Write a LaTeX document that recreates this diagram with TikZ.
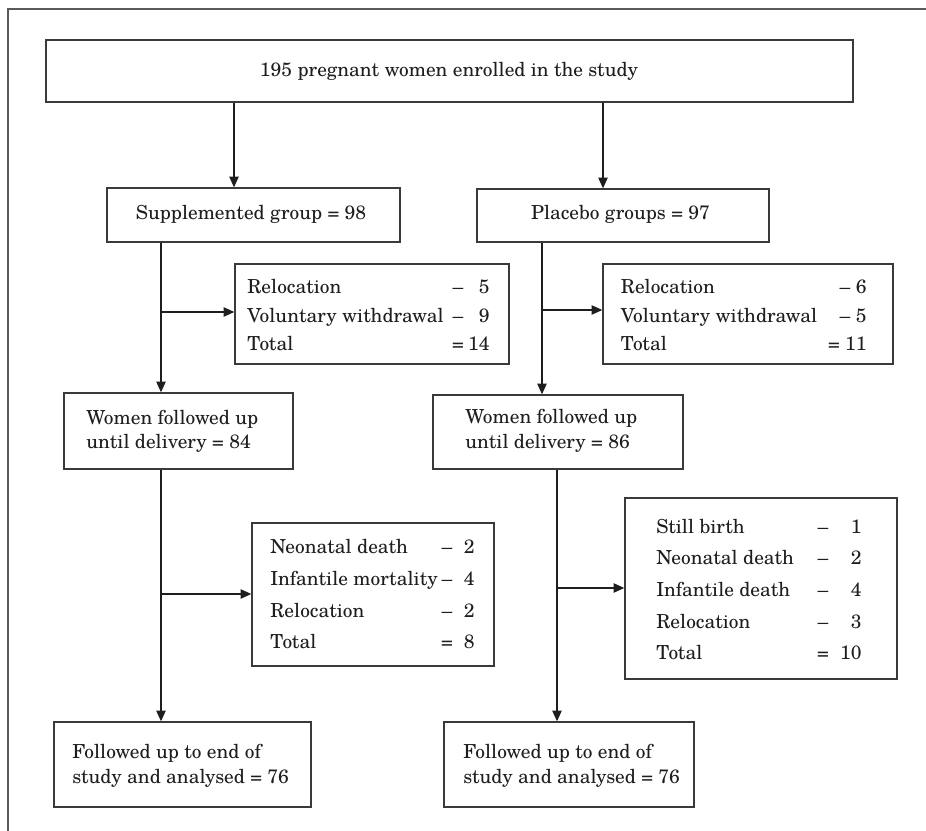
\documentclass[tikz,border=0pt]{standalone}
\usepackage{fontspec}
\setmainfont{TeX Gyre Schola}
\usetikzlibrary{arrows.meta,fit}
\definecolor{boxc}{HTML}{3A3A3A}
\definecolor{framec}{HTML}{5A5A5A}
\definecolor{txtc}{HTML}{1E1E1E}
\tikzset{
  box/.style={draw=boxc, line width=1pt, inner sep=0pt},
  txt/.style={inner sep=0pt, text=txtc, font=\fontsize{14.5}{17}\selectfont},
  arr/.style={draw=txtc, line width=0.9pt, -{Triangle[length=8pt,width=7pt]}},
}
\begin{document}
\begin{tikzpicture}[x=0.75pt,y=-0.75pt]
\useasboundingbox (0,0) rectangle (926,831);
% outer frame
\draw[framec, line width=1.5pt] (8,831) -- (8,9) -- (926,9);

% boxes
\node[box, fit={(46,40) (853,102)}] (top) {};
\node[box, fit={(107,188) (400,242)}] (supp) {};
\node[box, fit={(477,189) (769,242)}] (plac) {};
\node[box, fit={(235,264) (509,364)}] (rem1) {};
\node[box, fit={(603,264) (893,364)}] (rem2) {};
\node[box, fit={(64,393) (293,469)}] (w84) {};
\node[box, fit={(433,395) (683,469)}] (w86) {};
\node[box, fit={(252,523) (494,666)}] (rem3) {};
\node[box, fit={(625,498) (897,679)}] (rem4) {};
\node[box, fit={(54,722) (311,807)}] (fin1) {};
\node[box, fit={(444,722) (694,807)}] (fin2) {};

% single-line texts
\node[txt, anchor=base] (toptxt) at (449,77) {195 pregnant women enrolled in the study};
\node[txt, anchor=base] (supptxt) at (251,220) {Supplemented group = 98};
\node[txt, anchor=base] (plactxt) at (620.5,220) {Placebo groups = 97};

% two-line texts
\node[txt, anchor=base west] (w84a) at (86,425) {Women followed up};
\node[txt, anchor=base west] (w84b) at (86,449) {until delivery = 84};
\node[txt, anchor=base west] (w86a) at (465,424) {Women followed up};
\node[txt, anchor=base west] (w86b) at (465,448) {until delivery = 86};
\node[txt, anchor=base west] (fin1a) at (72,758) {Followed up to end of};
\node[txt, anchor=base west] (fin1b) at (72,783) {study and analysed = 76};
\node[txt, anchor=base west] (fin2a) at (463,758) {Followed up to end of};
\node[txt, anchor=base west] (fin2b) at (463,783) {study and analysed = 76};

% list boxes: label / symbol / number / baseline / symbol x
\foreach \lab/\sym/\num/\y/\sx [count=\i] in {Relocation/\textendash/5/294/458, Voluntary withdrawal/\textendash/9/322.7/458, Total/=/14/351/458}{
  \node[txt, anchor=base west] (r1l\i) at (247,\y) {\lab};
  \node[txt, anchor=base] (r1s\i) at (\sx,\y) {\sym};
  \node[txt, anchor=base east] (r1n\i) at (490,\y) {\num};
}
\foreach \lab/\sym/\num/\y/\sx [count=\i] in {Relocation/\textendash/6/294/845, Voluntary withdrawal/\textendash/5/322.7/845, Total/=/11/351/834}{
  \node[txt, anchor=base west] (r2l\i) at (620.5,\y) {\lab};
  \node[txt, anchor=base] (r2s\i) at (\sx,\y) {\sym};
  \node[txt, anchor=base east] (r2n\i) at (867,\y) {\num};
}
\foreach \lab/\sym/\num/\y/\sx [count=\i] in {Neonatal death/\textendash/2/553/447, Infantile mortality/\textendash/4/585/447, Relocation/\textendash/2/617/447, Total/=/8/648/447}{
  \node[txt, anchor=base west] (r3l\i) at (270,\y) {\lab};
  \node[txt, anchor=base] (r3s\i) at (\sx,\y) {\sym};
  \node[txt, anchor=base east] (r3n\i) at (475,\y) {\num};
}
\foreach \lab/\sym/\num/\y/\sx [count=\i] in {Still birth/\textendash/1/533/823, Neonatal death/\textendash/2/564.5/823, Infantile death/\textendash/4/596/823, Relocation/\textendash/3/628/823, Total/=/10/659/823}{
  \node[txt, anchor=base west] (r4l\i) at (656,\y) {\lab};
  \node[txt, anchor=base] (r4s\i) at (\sx,\y) {\sym};
  \node[txt, anchor=base east] (r4n\i) at (862,\y) {\num};
}

% connector guide coordinates
\coordinate (ca) at (234,0);
\coordinate (cb) at (603,0);
\coordinate (b1) at (161,312);
\coordinate (b2) at (542,310);
\coordinate (b3) at (161,594);
\coordinate (b4) at (557,588);

% connectors
\draw[arr] (top.south -| ca) -- (supp.north -| ca);
\draw[arr] (top.south -| cb) -- (plac.north -| cb);
\draw[arr] (supp.south -| b1) -- (w84.north -| b1);
\draw[arr] (b1) -- (rem1.west |- b1);
\draw[arr] (plac.south -| b2) -- (w86.north -| b2);
\draw[arr] (b2) -- (rem2.west |- b2);
\draw[arr] (w84.south -| b3) -- (fin1.north -| b3);
\draw[arr] (b3) -- (rem3.west |- b3);
\draw[arr] (w86.south -| b4) -- (fin2.north -| b4);
\draw[arr] (b4) -- (rem4.west |- b4);
\end{tikzpicture}
\end{document}
